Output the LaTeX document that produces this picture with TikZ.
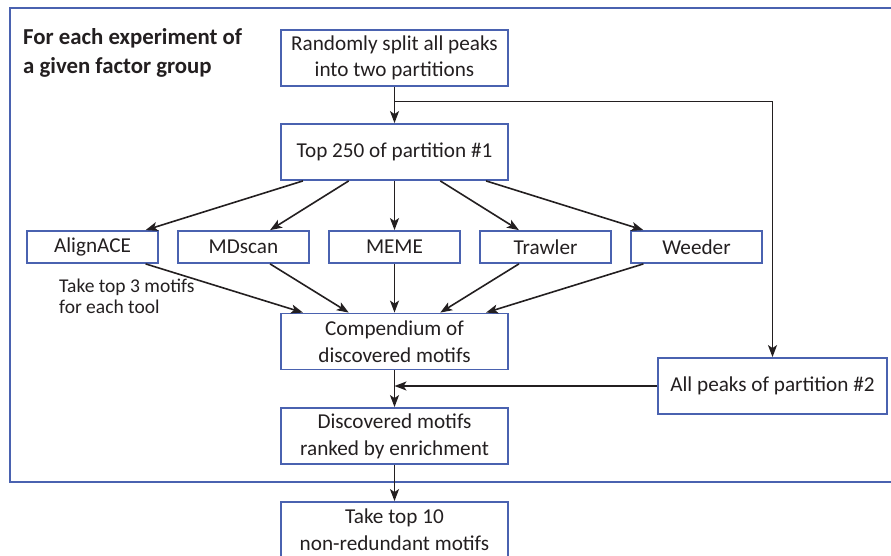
\documentclass[tikz,border=0pt]{standalone}
\usepackage{fontspec}
\setmainfont{Carlito}
\usetikzlibrary{positioning,calc,arrows.meta}
\definecolor{boxblue}{HTML}{4A62B0}
\definecolor{ink}{HTML}{231F20}
\tikzstyle{mf-block}=[draw=boxblue,line width=1.8pt,text=ink,inner sep=0pt,minimum width=227pt,minimum height=56pt,align=center,font=\fontsize{21.2}{26.7}\selectfont]
\tikzstyle{mf-tool}=[mf-block,minimum width=131pt,minimum height=32pt]
\tikzstyle{mf-link}=[draw=ink,line width=1.6pt,->]
\tikzstyle{mf-note}=[anchor=north west,inner sep=0pt,align=left,text=ink]

\begin{document}
\begin{tikzpicture}[x=1pt,y=-1pt,>={Stealth[length=12pt,width=9pt,inset=3pt]},node distance=94pt]
    \useasboundingbox (0,0) rectangle (891,556);
    % frame round one experiment
    \draw[draw=boxblue,line width=1.8pt] (10,8) rectangle (905,482);
    \node[mf-note,font=\bfseries\fontsize{22.8}{29}\selectfont] (title) at (23,28) {For each experiment of\\a given factor group};
    \node[mf-block] (init) at (394.5,58) {Randomly split all peaks\\into two partitions};
    \node[mf-block] (top)  [below of=init, node distance=94pt] {Top 250 of partition \#1};
    \node[mf-tool]  (meme)    [below of=top, node distance=95pt]   {MEME};
    \node[mf-tool]  (mdscan)  [left of=meme, node distance=151pt]  {MDscan};
    \node[mf-tool]  (align)   [left of=mdscan, node distance=151pt] {AlignACE};
    \node[mf-tool]  (trawler) [right of=meme, node distance=151pt] {Trawler};
    \node[mf-tool]  (weeder)  [right of=trawler, node distance=151pt] {Weeder};
    \node[mf-note,font=\fontsize{19.5}{21}\selectfont] (note) at (59,279) {Take top 3 motifs\\for each tool};
    \node[mf-block] (comp) [below of=meme, node distance=94.5pt] {Compendium of\\discovered motifs};
    \node[mf-block] (disc) [below of=comp, node distance=94.5pt] {Discovered motifs\\ranked by enrichment};
    \node[mf-block] (take) [below of=disc, node distance=94pt] {Take top 10\\non-redundant motifs};
    \node[mf-block, minimum width=229pt] (peaks) at (772.5,386) {All peaks of partition \#2};
    \coordinate (split) at ($(init.south)!0.4!(top.north)$);
    \draw[mf-link] (init) to (top);
    \draw[mf-link] (split) -| (peaks.north);
    \draw[mf-link] (peaks.west) -- (peaks.west -| comp.south);
    \draw[mf-link] (comp) to (disc);
    \draw[mf-link] (disc) to (take);
    \foreach \t/\f/\g in {align/0.1/0.9, mdscan/0.3/0.7, meme/0.5/0.5, trawler/0.7/0.3, weeder/0.9/0.1} {
      \draw[mf-link] ($(top.south west)!\f!(top.south east)$) -- ($(\t.north west)!\g!(\t.north east)$);
      \draw[mf-link] ($(\t.south west)!\g!(\t.south east)$) -- ($(comp.north west)!\f!(comp.north east)$);
    }
\end{tikzpicture}
\end{document}
